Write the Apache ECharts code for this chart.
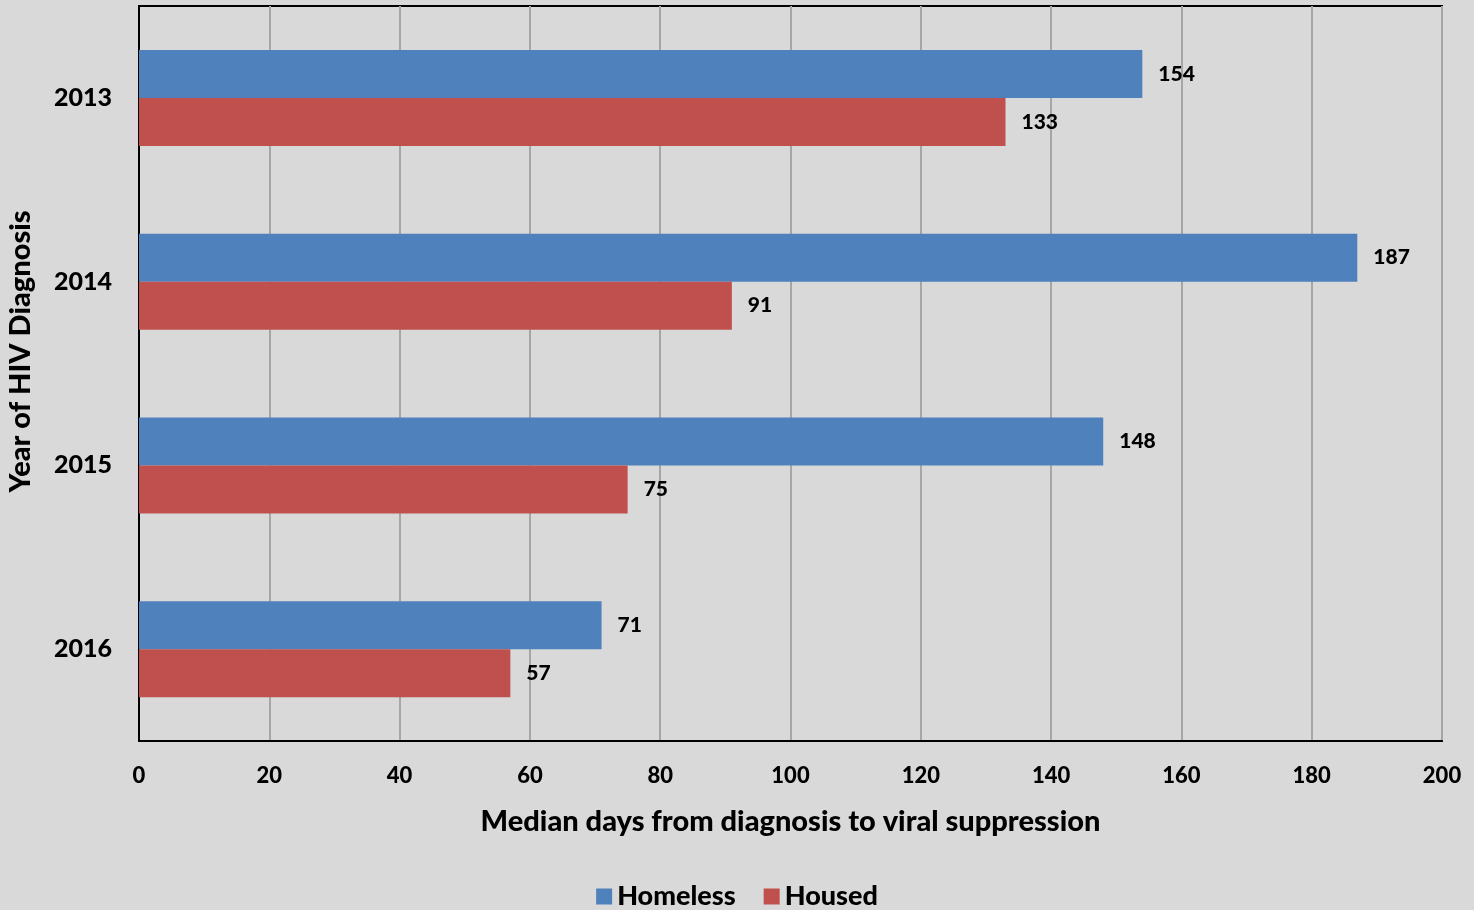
<!DOCTYPE html>
<html>
<head>
<meta charset="utf-8">
<script src="https://cdn.jsdelivr.net/npm/echarts@6/dist/echarts.min.js"></script>
<style>
  html, body { margin: 0; padding: 0; background: #d9d9d9; }
  #chart { width: 1474px; height: 910px; }
</style>
</head>
<body>
<div id="chart"></div>
<script>
const years = ['2013', '2014', '2015', '2016'];
const homeless = [154, 187, 148, 71];
const housed = [133, 91, 75, 57];

const font = 'Lato, "Open Sans", sans-serif';
const heavy = 900;

const myChart = echarts.init(document.getElementById('chart'), null, { renderer: 'canvas' });

const labelStyle = {
  show: true,
  position: 'right',
  distance: 16,
  color: '#000',
  fontWeight: heavy,
  fontSize: 21,
  fontFamily: font,
};

myChart.setOption({
  backgroundColor: '#d9d9d9',
  animation: false,
  textStyle: { fontFamily: font },
  grid: {
    left: 139, right: 32, top: 6, bottom: 169,
    outerBoundsMode: 'none',
    show: true, borderColor: '#000', borderWidth: 2, backgroundColor: 'transparent',
  },
  legend: {
    bottom: -5,
    left: 'center',
    itemWidth: 16,
    itemHeight: 16,
    itemGap: 28,
    icon: 'rect',
    textStyle: { fontSize: 27, fontWeight: heavy, color: '#000', fontFamily: font },
    data: ['Homeless', 'Housed'],
  },
  xAxis: {
    type: 'value',
    min: 0,
    max: 200,
    interval: 20,
    name: 'Median days from diagnosis to viral suppression',
    nameLocation: 'middle',
    nameGap: 66,
    nameTextStyle: { fontSize: 29, fontWeight: heavy, color: '#000', fontFamily: font },
    axisLine: { show: true, lineStyle: { color: '#000', width: 2 } },
    axisTick: { show: false },
    axisLabel: { fontSize: 22, fontWeight: heavy, color: '#000', margin: 24, fontFamily: font },
    splitLine: { show: true, lineStyle: { color: '#a6a6a6', width: 2 } },
  },
  yAxis: {
    type: 'category',
    data: years,
    inverse: true,
    name: 'Year of HIV Diagnosis',
    nameLocation: 'middle',
    nameGap: 104,
    nameRotate: 90,
    nameTextStyle: { fontSize: 29, fontWeight: heavy, color: '#000', fontFamily: font, padding: [0, 0, 0, 44] },
    axisLine: { show: true, lineStyle: { color: '#000', width: 2 } },
    axisTick: { show: false },
    axisLabel: { fontSize: 25, fontWeight: heavy, color: '#000', margin: 27, fontFamily: font },
  },
  series: [
    {
      name: 'Homeless',
      type: 'bar',
      data: homeless,
      barWidth: 48,
      barGap: '0%',
      itemStyle: { color: '#4f81bd' },
      label: labelStyle,
    },
    {
      name: 'Housed',
      type: 'bar',
      data: housed,
      barWidth: 48,
      itemStyle: { color: '#c0504d' },
      label: labelStyle,
    },
  ],
});
</script>
</body>
</html>
